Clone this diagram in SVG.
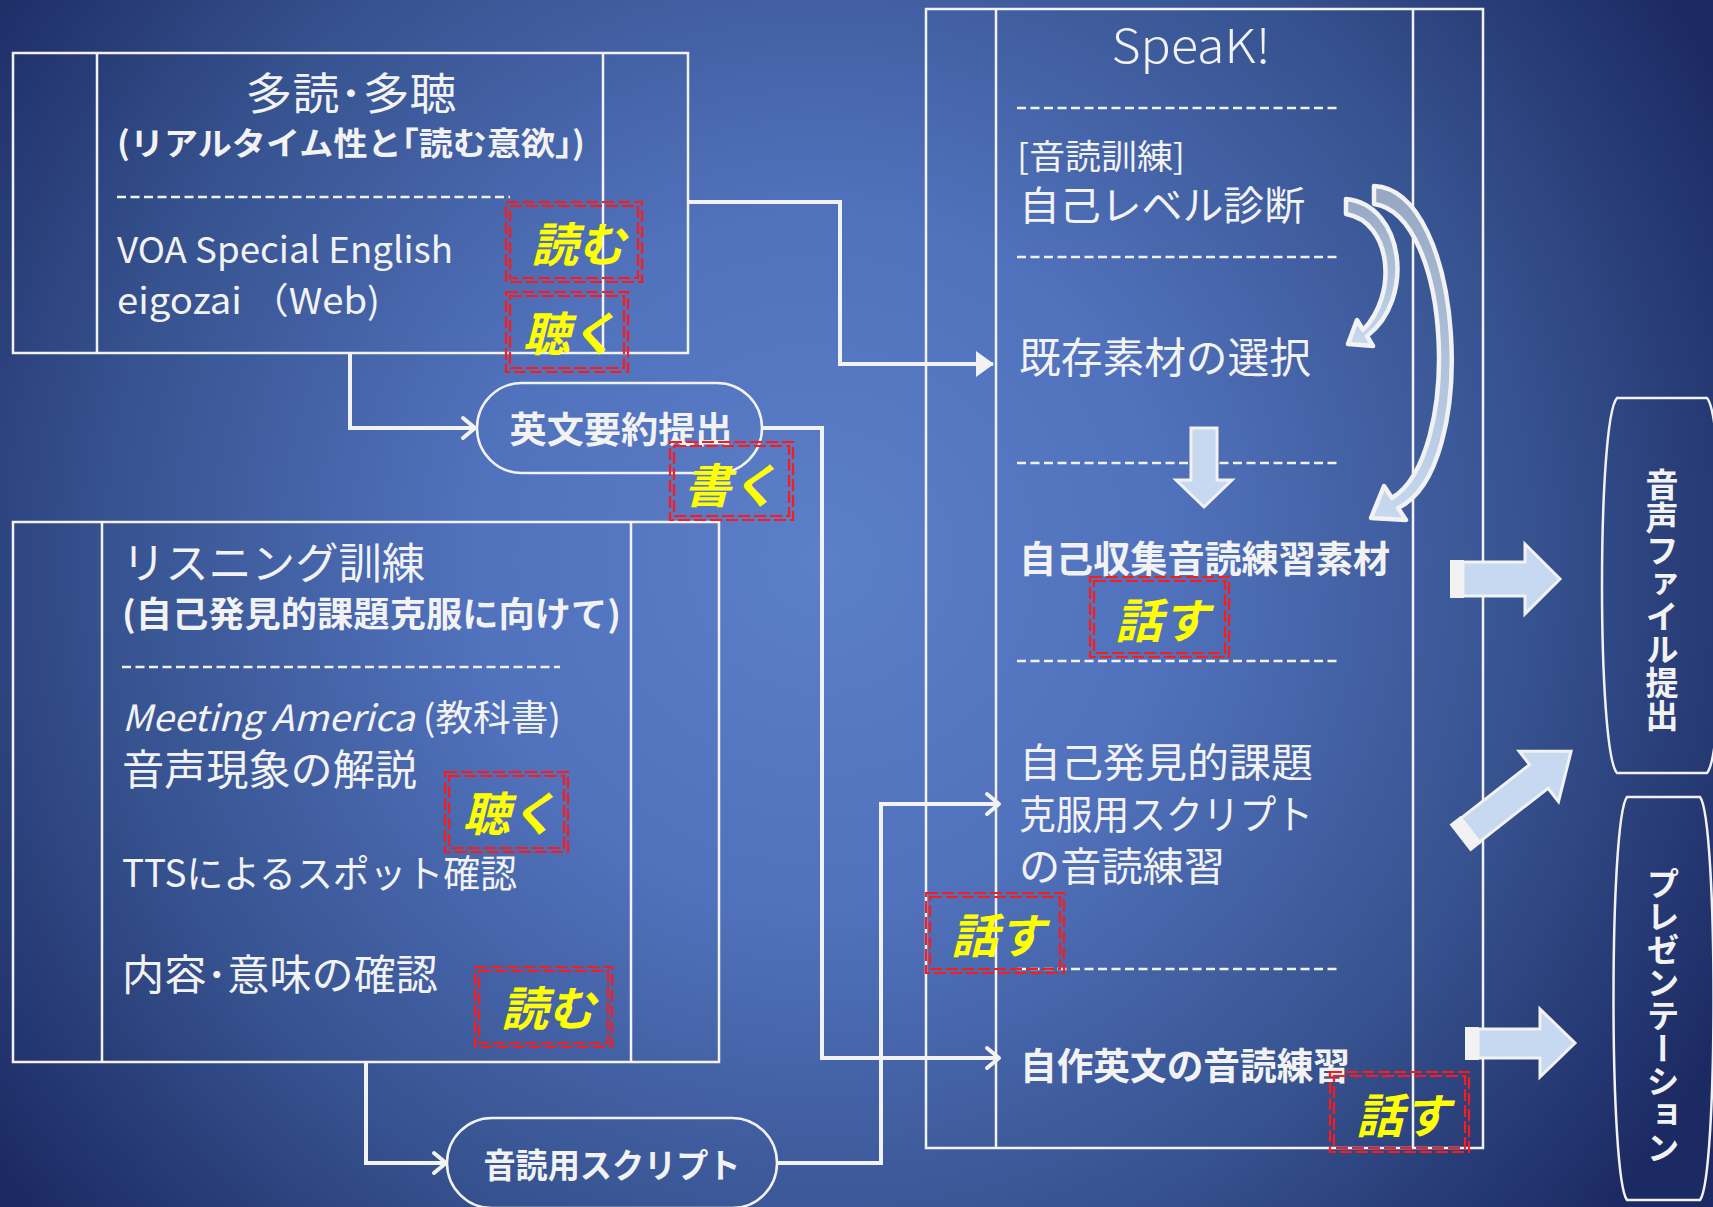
<svg xmlns="http://www.w3.org/2000/svg" width="1713" height="1207" viewBox="0 0 1713 1207">
<defs>
  <radialGradient id="bg" gradientUnits="userSpaceOnUse" cx="820" cy="560" r="1020">
    <stop offset="0" stop-color="#5c7fca"/>
    <stop offset="0.35" stop-color="#5071bb"/>
    <stop offset="0.7" stop-color="#36528f"/>
    <stop offset="1" stop-color="#1c2a63"/>
  </radialGradient>
  <linearGradient id="curveFill" x1="0" y1="0" x2="0" y2="1">
    <stop offset="0" stop-color="#95a7c2"/>
    <stop offset="1" stop-color="#c6d9f1"/>
  </linearGradient>
  <marker id="chev" viewBox="0 0 26 26" markerWidth="26" markerHeight="26" refX="23" refY="13" orient="auto" markerUnits="userSpaceOnUse">
    <path d="M11,3 L23,13 L11,23" fill="none" stroke="#f2f2f2" stroke-width="4" stroke-linecap="round" stroke-linejoin="round"/>
  </marker>
  <marker id="tri" viewBox="0 0 18 26" markerWidth="18" markerHeight="26" refX="17" refY="13" orient="auto" markerUnits="userSpaceOnUse">
    <path d="M0,0 L18,13 L0,26 Z" fill="#f2f2f2"/>
  </marker>
  <style>
    .w { fill:#f2f2f2; font-family:"Noto Sans CJK JP","Noto Sans",sans-serif; }
    .bd { font-weight:700; }
    .ln { fill:none; stroke:#f2f2f2; stroke-width:2.5; }
    .dash { fill:none; stroke:#f2f2f2; stroke-width:2.5; stroke-dasharray:9 4.5; }
    .con { fill:none; stroke:#f2f2f2; stroke-width:4; }
    .blk { fill:#c6d9f1; stroke:#f2f2f2; stroke-width:3; }
    .tail { fill:#f2f2f2; }
    .crv { fill:url(#curveFill); stroke:#f2f2f2; stroke-width:4.5; stroke-linejoin:round; }
    .rb { fill:none; stroke:#ff1a1a; stroke-width:2.2; stroke-dasharray:12 4; }
    .sk { fill:#ffff00; font-family:"Noto Sans CJK JP",sans-serif; font-weight:700; font-style:italic; font-size:47px; text-anchor:middle; }
  </style>
</defs>

<rect x="0" y="0" width="1713" height="1207" fill="url(#bg)"/>

<!-- Node: 多読・多聴 -->
<g id="node-tadoku">
  <rect class="ln" x="13" y="53" width="675" height="300"/>
  <line class="ln" x1="97" y1="53" x2="97" y2="353"/>
  <line class="ln" x1="603" y1="53" x2="603" y2="353"/>
  <text class="w" x="351" y="110" font-size="44" text-anchor="middle" textLength="211" lengthAdjust="spacingAndGlyphs">多読･多聴</text>
  <text class="w bd" x="117" y="155" font-size="32" textLength="468" lengthAdjust="spacingAndGlyphs">(リアルタイム性と｢読む意欲｣)</text>
  <line class="dash" x1="117" y1="197" x2="510" y2="197"/>
  <text class="w" x="117" y="263" font-size="36" textLength="336" lengthAdjust="spacingAndGlyphs">VOA Special English</text>
  <text class="w" x="117" y="314" font-size="36" textLength="263" lengthAdjust="spacingAndGlyphs">eigozai （Web)</text>
</g>

<!-- Node: リスニング訓練 -->
<g id="node-listening">
  <rect class="ln" x="13" y="522" width="706" height="540"/>
  <line class="ln" x1="102" y1="522" x2="102" y2="1062"/>
  <line class="ln" x1="631" y1="522" x2="631" y2="1062"/>
  <text class="w" x="122" y="579" font-size="43" textLength="303" lengthAdjust="spacingAndGlyphs">リスニング訓練</text>
  <text class="w bd" x="122" y="627" font-size="35" textLength="499" lengthAdjust="spacingAndGlyphs">(自己発見的課題克服に向けて)</text>
  <line class="dash" x1="122" y1="667" x2="560" y2="667"/>
  <text class="w" x="122" y="731" font-size="36" textLength="439" lengthAdjust="spacingAndGlyphs"><tspan font-style="italic">Meeting America</tspan> (教科書)</text>
  <text class="w" x="122" y="785" font-size="42" textLength="295" lengthAdjust="spacingAndGlyphs">音声現象の解説</text>
  <text class="w" x="122" y="887" font-size="38" textLength="395" lengthAdjust="spacingAndGlyphs">TTSによるスポット確認</text>
  <text class="w" x="122" y="990" font-size="42" textLength="316" lengthAdjust="spacingAndGlyphs">内容･意味の確認</text>
</g>

<!-- Node: SpeaK! -->
<g id="node-speak">
  <rect class="ln" x="926" y="9" width="557" height="1139"/>
  <line class="ln" x1="996" y1="9" x2="996" y2="1148"/>
  <line class="ln" x1="1413" y1="9" x2="1413" y2="1148"/>
  <text class="w" x="1191" y="63" font-size="46" font-weight="300" text-anchor="middle" textLength="159" lengthAdjust="spacingAndGlyphs">SpeaK!</text>
  <line class="dash" x1="1017" y1="108" x2="1337" y2="108"/>
  <text class="w" x="1017" y="169" font-size="34" textLength="168" lengthAdjust="spacingAndGlyphs">[音読訓練]</text>
  <text class="w" x="1019" y="220" font-size="40" textLength="286" lengthAdjust="spacingAndGlyphs">自己レベル診断</text>
  <line class="dash" x1="1017" y1="257" x2="1339" y2="257"/>
  <text class="w" x="1019" y="373" font-size="42" textLength="292" lengthAdjust="spacingAndGlyphs">既存素材の選択</text>
  <line class="dash" x1="1017" y1="463" x2="1339" y2="463"/>
  <text class="w bd" x="1019" y="573" font-size="37" textLength="371" lengthAdjust="spacingAndGlyphs">自己収集音読練習素材</text>
  <line class="dash" x1="1017" y1="661" x2="1339" y2="661"/>
  <text class="w" x="1019" y="777" font-size="40" textLength="294" lengthAdjust="spacingAndGlyphs">自己発見的課題</text>
  <text class="w" x="1019" y="829" font-size="40" textLength="294" lengthAdjust="spacingAndGlyphs">克服用スクリプト</text>
  <text class="w" x="1019" y="881" font-size="40" textLength="206" lengthAdjust="spacingAndGlyphs">の音読練習</text>
  <line class="dash" x1="1017" y1="969" x2="1340" y2="969"/>
  <text class="w bd" x="1020" y="1080" font-size="37" textLength="330" lengthAdjust="spacingAndGlyphs">自作英文の音読練習</text>
</g>

<!-- Node: 英文要約提出 -->
<g id="node-summary">
  <rect class="ln" x="477" y="383" width="285" height="90" rx="45" ry="45"/>
  <text class="w bd" x="621" y="443" font-size="36" text-anchor="middle" textLength="223" lengthAdjust="spacingAndGlyphs">英文要約提出</text>
</g>

<!-- Node: 音読用スクリプト -->
<g id="node-script">
  <rect class="ln" x="447" y="1118" width="330" height="90" rx="45" ry="45"/>
  <text class="w bd" x="612" y="1178" font-size="34" text-anchor="middle" textLength="257" lengthAdjust="spacingAndGlyphs">音読用スクリプト</text>
</g>

<!-- Node: 音声ファイル提出 -->
<g id="node-audio-file">
  <path class="ln" d="M1617,398 H1707 C1727,420 1727,751 1707,773 H1617 C1597,751 1597,420 1617,398 Z"/>
  <text class="w bd" x="1662" y="600" font-size="33" writing-mode="vertical-rl" text-anchor="middle">音声ファイル提出</text>
</g>

<!-- Node: プレゼンテーション -->
<g id="node-presentation">
  <path class="ln" d="M1627,797 H1700 C1718,820 1718,1177 1700,1200 H1627 C1609,1177 1609,820 1627,797 Z"/>
  <text class="w bd" x="1663" y="1015" font-size="33" writing-mode="vertical-rl" text-anchor="middle">プレゼンテーション</text>
</g>

<!-- Connectors -->
<g id="connectors">
  <path class="con" d="M350,353 V428 H475" marker-end="url(#chev)"/>
  <path class="con" d="M688,202 H840 V364 H993" marker-end="url(#tri)"/>
  <path class="con" d="M762,428 H822 V1058 H999" marker-end="url(#chev)"/>
  <path class="con" d="M366,1062 V1163 H446" marker-end="url(#chev)"/>
  <path class="con" d="M777,1163 H881 V804 H999" marker-end="url(#chev)"/>

  <!-- curved arrows inside SpeaK! -->
  <path class="crv" d="M1346,199 C1405,205 1415,300 1367,336 L1373,346 L1348,344 L1357,320 L1363,330 C1398,295 1392,222 1346,214 Z"/>
  <path class="crv" d="M1374,186 C1465,190 1480,470 1398,508 L1406,520 L1371,518 L1384,486 L1392,498 C1462,455 1452,215 1374,204 Z"/>

  <!-- down block arrow -->
  <path class="blk" d="M1191,428 H1217 V480 H1232 L1204,507 L1176,480 H1191 Z"/>

  <!-- right block arrows -->
  <rect class="tail" x="1450" y="560" width="14" height="38"/>
  <path class="blk" d="M1463,562 H1525 V544 L1560,579 L1525,614 V596 H1463 Z"/>
  <g transform="translate(1460,838) rotate(-38)">
    <rect class="tail" x="0" y="-17" width="14" height="34"/>
    <path class="blk" d="M13,-15 H100 V-32 L141,0 L100,32 V15 H13 Z"/>
  </g>
  <rect class="tail" x="1465" y="1027" width="14" height="33"/>
  <path class="blk" d="M1478,1029 H1540 V1009 L1575,1043 L1540,1077 V1058 H1478 Z"/>
</g>

<!-- Skill labels -->
<g id="skill-labels">
  <g id="skill-read-1">
    <rect class="rb" x="506" y="202" width="136" height="80"/>
    <rect class="rb" x="510" y="206" width="128" height="72"/>
    <text class="sk" x="578" y="262">読む</text>
  </g>
  <g id="skill-listen-1">
    <rect class="rb" x="506" y="292" width="122" height="80"/>
    <rect class="rb" x="510" y="296" width="114" height="72"/>
    <text class="sk" x="570" y="351">聴く</text>
  </g>
  <g id="skill-write">
    <rect class="rb" x="670" y="442" width="123" height="78"/>
    <rect class="rb" x="674" y="446" width="115" height="70"/>
    <text class="sk" x="731" y="503">書く</text>
  </g>
  <g id="skill-listen-2">
    <rect class="rb" x="445" y="772" width="123" height="80"/>
    <rect class="rb" x="449" y="776" width="115" height="72"/>
    <text class="sk" x="510" y="831">聴く</text>
  </g>
  <g id="skill-read-2">
    <rect class="rb" x="475" y="967" width="137" height="80"/>
    <rect class="rb" x="479" y="971" width="129" height="72"/>
    <text class="sk" x="548" y="1026">読む</text>
  </g>
  <g id="skill-speak-1">
    <rect class="rb" x="1090" y="577" width="139" height="80"/>
    <rect class="rb" x="1094" y="581" width="131" height="72"/>
    <text class="sk" x="1162" y="638">話す</text>
  </g>
  <g id="skill-speak-2">
    <rect class="rb" x="926" y="893" width="138" height="80"/>
    <rect class="rb" x="930" y="897" width="130" height="72"/>
    <text class="sk" x="998" y="953">話す</text>
  </g>
  <g id="skill-speak-3">
    <rect class="rb" x="1330" y="1072" width="139" height="80"/>
    <rect class="rb" x="1334" y="1076" width="131" height="72"/>
    <text class="sk" x="1403" y="1133">話す</text>
  </g>
</g>
</svg>
